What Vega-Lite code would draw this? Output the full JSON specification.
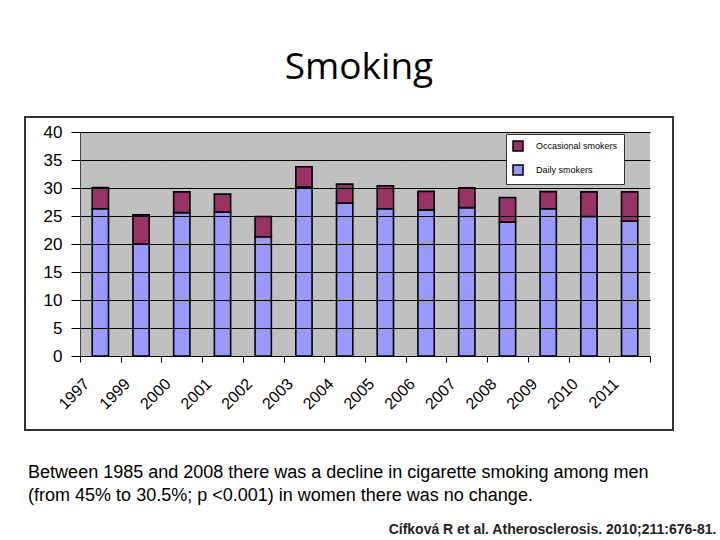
{
  "$schema": "https://vega.github.io/schema/vega-lite/v6.json",
  "width": 648,
  "height": 313,
  "autosize": {"type": "none"},
  "padding": {"left": 25, "top": 117, "right": 47, "bottom": 110},
  "background": "white",
  "title": {
    "text": "Smoking",
    "font": "Open Sans",
    "fontSize": 37,
    "fontWeight": "normal",
    "color": "#000",
    "anchor": "middle",
    "frame": "group",
    "baseline": "alphabetic",
    "offset": 1,
    "dx": 10
  },
  "data": {
    "values": [
      {"year": "1997", "category": "Daily smokers", "value": 26.3},
      {"year": "1997", "category": "Occasional smokers", "value": 3.8},
      {"year": "1999", "category": "Daily smokers", "value": 20.0},
      {"year": "1999", "category": "Occasional smokers", "value": 5.2},
      {"year": "2000", "category": "Daily smokers", "value": 25.6},
      {"year": "2000", "category": "Occasional smokers", "value": 3.7},
      {"year": "2001", "category": "Daily smokers", "value": 25.7},
      {"year": "2001", "category": "Occasional smokers", "value": 3.2},
      {"year": "2002", "category": "Daily smokers", "value": 21.3},
      {"year": "2002", "category": "Occasional smokers", "value": 3.6},
      {"year": "2003", "category": "Daily smokers", "value": 30.2},
      {"year": "2003", "category": "Occasional smokers", "value": 3.6},
      {"year": "2004", "category": "Daily smokers", "value": 27.3},
      {"year": "2004", "category": "Occasional smokers", "value": 3.4},
      {"year": "2005", "category": "Daily smokers", "value": 26.3},
      {"year": "2005", "category": "Occasional smokers", "value": 4.1},
      {"year": "2006", "category": "Daily smokers", "value": 26.1},
      {"year": "2006", "category": "Occasional smokers", "value": 3.3},
      {"year": "2007", "category": "Daily smokers", "value": 26.5},
      {"year": "2007", "category": "Occasional smokers", "value": 3.55},
      {"year": "2008", "category": "Daily smokers", "value": 23.9},
      {"year": "2008", "category": "Occasional smokers", "value": 4.4},
      {"year": "2009", "category": "Daily smokers", "value": 26.3},
      {"year": "2009", "category": "Occasional smokers", "value": 3.05},
      {"year": "2010", "category": "Daily smokers", "value": 24.9},
      {"year": "2010", "category": "Occasional smokers", "value": 4.4},
      {"year": "2011", "category": "Daily smokers", "value": 24.1},
      {"year": "2011", "category": "Occasional smokers", "value": 5.2}
    ]
  },
  "encoding": {
    "x": {
      "field": "year",
      "type": "nominal",
      "scale": {"range": [55, 625], "paddingInner": 0, "paddingOuter": 0},
      "axis": {
        "labelAngle": -45,
        "labelAlign": "right",
        "labelBaseline": "middle",
        "labelFont": "Liberation Sans",
        "labelFontSize": 16,
        "labelColor": "#000",
        "labelPadding": 19,
        "labelOffset": -14,
        "tickBand": "extent",
        "ticks": true,
        "tickSize": 6,
        "tickColor": "#000",
        "domain": true,
        "domainColor": "#000",
        "grid": false,
        "offset": -74,
        "zindex": 1,
        "title": ["Between 1985 and 2008 there was a decline in cigarette smoking among men", "(from 45% to 30.5%; p <0.001) in women there was no change."],
        "titleFont": "Liberation Sans",
        "titleFontSize": 18,
        "titleFontWeight": "normal",
        "titleColor": "#000",
        "titleAlign": "left",
        "titleBaseline": "alphabetic",
        "titleLineHeight": 22.5,
        "titleX": 2.6,
        "titleY": 121.7
      }
    },
    "y": {
      "type": "quantitative",
      "scale": {"domain": [0, 40], "range": [239, 15], "nice": false},
      "axis": {
        "values": [0, 5, 10, 15, 20, 25, 30, 35, 40],
        "labelOverlap": false,
        "grid": true,
        "gridColor": "#000",
        "gridWidth": 1.2,
        "domain": true,
        "domainColor": "#444",
        "ticks": true,
        "tickColor": "#000",
        "tickSize": 9,
        "labelFont": "Liberation Sans",
        "labelFontSize": 17,
        "labelColor": "#000",
        "labelPadding": 9,
        "offset": -55,
        "zindex": 1,
        "title": "Cífková R et al. Atherosclerosis. 2010;211:676-81.",
        "titleFont": "Liberation Sans",
        "titleFontSize": 14,
        "titleFontWeight": "bold",
        "titleColor": "#222",
        "titleAngle": 0,
        "titleAlign": "right",
        "titleBaseline": "alphabetic",
        "titleX": 636,
        "titleY": 416
      }
    }
  },
  "layer": [
    {
      "mark": {"type": "rect", "fill": "#c0c0c0", "zindex": 0},
      "encoding": {
        "y": {"datum": 40},
        "y2": {"datum": 0}
      }
    },
    {
      "mark": {"type": "bar", "width": {"band": 0.4}, "stroke": "#000", "strokeWidth": 1.6, "zindex": 2},
      "encoding": {
        "y": {"field": "value", "stack": "zero"},
        "color": {
          "field": "category",
          "type": "nominal",
          "scale": {"domain": ["Occasional smokers", "Daily smokers"], "range": ["#993366", "#9999ff"]},
          "legend": {
            "orient": "none",
            "legendX": 481,
            "legendY": 17,
            "title": null,
            "symbolType": "square",
            "symbolSize": 100,
            "symbolStrokeColor": "#000",
            "symbolStrokeWidth": 1.5,
            "labelFont": "Liberation Sans",
            "labelFontSize": 9,
            "labelColor": "#000",
            "labelOffset": 12,
            "rowPadding": 8,
            "padding": 6,
            "strokeColor": "#333",
            "fillColor": "#fff",
            "zindex": 3
          }
        },
        "order": {"field": "category", "sort": "ascending"}
      }
    }
  ],
  "config": {
    "view": {"stroke": "#333", "strokeWidth": 2, "fill": "white"}
  }
}
